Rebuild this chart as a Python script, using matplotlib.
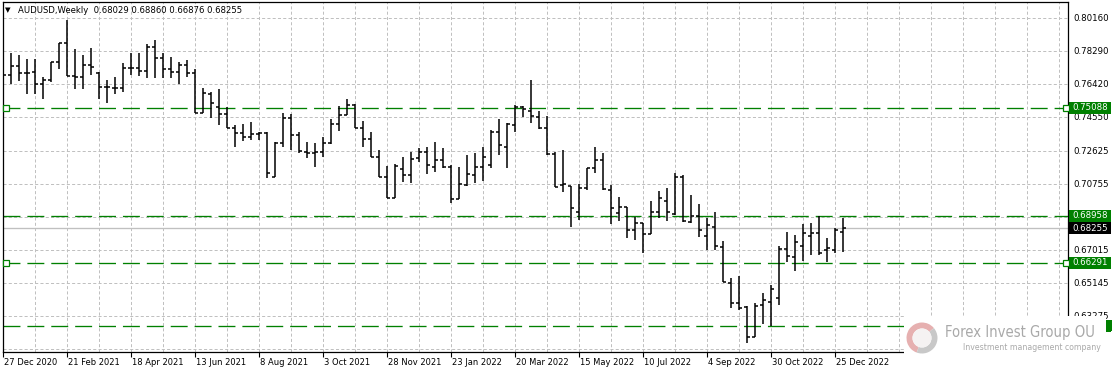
import matplotlib
matplotlib.use("Agg")
import matplotlib.pyplot as plt
from matplotlib.collections import LineCollection
from matplotlib.patches import Rectangle, Wedge, Circle
from matplotlib.transforms import blended_transform_factory
from matplotlib import font_manager

plt.rcParams['lines.scale_dashes'] = False

# ---------------- data ----------------
symbol_title = "AUDUSD,Weekly"
opens = [0.7609, 0.7694, 0.7747, 0.7705, 0.7709, 0.7641, 0.7666, 0.7769, 0.7874, 0.7688,
         0.7681, 0.7751, 0.7707, 0.7624, 0.7620, 0.7618, 0.7732, 0.7732, 0.7718, 0.7854,
         0.7789, 0.7726, 0.7713, 0.7751, 0.7707, 0.7480, 0.7586, 0.7513, 0.7473, 0.7392,
         0.7363, 0.7344, 0.7358, 0.7367, 0.7117, 0.7307, 0.7449, 0.7354, 0.7259, 0.7253,
         0.7259, 0.7310, 0.7414, 0.7467, 0.7524, 0.7395, 0.7329, 0.7231, 0.7117, 0.6995,
         0.7159, 0.7127, 0.7222, 0.7259, 0.7174, 0.7212, 0.7174, 0.6989, 0.7070, 0.7127,
         0.7171, 0.7184, 0.7373, 0.7287, 0.7411, 0.7511, 0.7492, 0.7457, 0.7392, 0.7246,
         0.7070, 0.7065, 0.6919, 0.7052, 0.7165, 0.7212, 0.7042, 0.6913, 0.6947, 0.6815,
         0.6857, 0.6792, 0.6919, 0.6981, 0.6906, 0.7117, 0.6862, 0.6895, 0.6781, 0.6830,
         0.6720, 0.6513, 0.6400, 0.6380, 0.6210, 0.6390, 0.6409, 0.6428, 0.6706, 0.6660,
         0.6724, 0.6781, 0.6800, 0.6702, 0.6702, 0.68029]
highs = [0.7741, 0.7817, 0.7807, 0.7783, 0.7783, 0.7681, 0.7769, 0.7874, 0.8006, 0.7840,
         0.7807, 0.7845, 0.7710, 0.7666, 0.7681, 0.7760, 0.7820, 0.7820, 0.7868, 0.7892,
         0.7817, 0.7798, 0.7769, 0.7779, 0.7728, 0.7619, 0.7597, 0.7615, 0.7513, 0.7411,
         0.7416, 0.7429, 0.7373, 0.7373, 0.7316, 0.7477, 0.7473, 0.7373, 0.7316, 0.7307,
         0.7341, 0.7443, 0.7518, 0.7556, 0.7530, 0.7433, 0.7373, 0.7269, 0.7178, 0.7189,
         0.7231, 0.7259, 0.7278, 0.7284, 0.7316, 0.7278, 0.7184, 0.7174, 0.7240, 0.7250,
         0.7284, 0.7382, 0.7443, 0.7420, 0.7524, 0.7518, 0.7666, 0.7492, 0.7462, 0.7259,
         0.7269, 0.7065, 0.7076, 0.7165, 0.7284, 0.7250, 0.7070, 0.7004, 0.6947, 0.6891,
         0.6857, 0.6981, 0.7036, 0.7052, 0.7137, 0.7127, 0.7014, 0.6963, 0.6881, 0.6919,
         0.6753, 0.6541, 0.6554, 0.6384, 0.6400, 0.6456, 0.6503, 0.6724, 0.6806, 0.6787,
         0.6849, 0.6853, 0.6896, 0.6768, 0.6825, 0.68860]
lows = [0.7552, 0.7641, 0.7660, 0.7585, 0.7585, 0.7560, 0.7656, 0.7726, 0.7688, 0.7616,
        0.7616, 0.7694, 0.7558, 0.7534, 0.7586, 0.7599, 0.7694, 0.7688, 0.7679, 0.7679,
        0.7679, 0.7679, 0.7643, 0.7681, 0.7477, 0.7477, 0.7448, 0.7410, 0.7392, 0.7287,
        0.7321, 0.7325, 0.7325, 0.7108, 0.7114, 0.7284, 0.7269, 0.7250, 0.7222, 0.7171,
        0.7227, 0.7303, 0.7378, 0.7467, 0.7392, 0.7284, 0.7231, 0.7114, 0.6995, 0.6995,
        0.7089, 0.7083, 0.7202, 0.7133, 0.7146, 0.7165, 0.6970, 0.6989, 0.7065, 0.7083,
        0.7095, 0.7165, 0.7240, 0.7165, 0.7373, 0.7454, 0.7424, 0.7386, 0.7240, 0.7061,
        0.7032, 0.6830, 0.6872, 0.7042, 0.7137, 0.7042, 0.6849, 0.6868, 0.6768, 0.6758,
        0.6683, 0.6792, 0.6882, 0.6868, 0.6900, 0.6862, 0.6857, 0.6774, 0.6700, 0.6702,
        0.6522, 0.6371, 0.6362, 0.6176, 0.6210, 0.6280, 0.6271, 0.6390, 0.6635, 0.6584,
        0.6641, 0.6673, 0.6673, 0.6635, 0.6683, 0.66876]
closes = [0.7694, 0.7747, 0.7704, 0.7707, 0.7641, 0.7666, 0.7769, 0.7874, 0.7688, 0.7681,
          0.7751, 0.7741, 0.7624, 0.7624, 0.7618, 0.7732, 0.7732, 0.7718, 0.7854, 0.7789,
          0.7726, 0.7713, 0.7751, 0.7707, 0.7480, 0.7590, 0.7533, 0.7473, 0.7392, 0.7363,
          0.7344, 0.7358, 0.7367, 0.7137, 0.7307, 0.7449, 0.7354, 0.7265, 0.7253, 0.7259,
          0.7310, 0.7414, 0.7467, 0.7524, 0.7395, 0.7329, 0.7231, 0.7117, 0.6995, 0.7178,
          0.7127, 0.7218, 0.7259, 0.7184, 0.7212, 0.7174, 0.6989, 0.7076, 0.7133, 0.7174,
          0.7231, 0.7373, 0.7297, 0.7416, 0.7514, 0.7500, 0.7461, 0.7392, 0.7246, 0.7061,
          0.7076, 0.6938, 0.7052, 0.7165, 0.7212, 0.7046, 0.6938, 0.6947, 0.6815, 0.6857,
          0.6792, 0.6919, 0.6995, 0.6919, 0.7117, 0.6868, 0.6895, 0.6815, 0.6844, 0.6724,
          0.6522, 0.6400, 0.6375, 0.6210, 0.6384, 0.6418, 0.6479, 0.6706, 0.6668, 0.6749,
          0.6800, 0.6800, 0.6683, 0.6711, 0.6815, 0.68255]

date_labels = ["27 Dec 2020", "21 Feb 2021", "18 Apr 2021", "13 Jun 2021", "8 Aug 2021",
               "3 Oct 2021", "28 Nov 2021", "23 Jan 2022", "20 Mar 2022", "15 May 2022",
               "10 Jul 2022", "4 Sep 2022", "30 Oct 2022", "25 Dec 2022"]
date_label_bars = [0, 8, 16, 24, 32, 40, 48, 56, 64, 72, 80, 88, 96, 104]
grid_bars = list(range(0, 133, 4))

price_ticks = [0.80160, 0.78290, 0.76420, 0.74550, 0.72625, 0.70755, 0.68885,
               0.67015, 0.65145, 0.63275, 0.61405]
# labels hidden in the reference (covered by a level label / the watermark) are empty
price_tick_labels = ["0.80160", "0.78290", "0.76420", "0.74550", "0.72625", "0.70755", "",
                     "0.67015", "0.65145", "0.63275", ""]

level_prices = [0.75088, 0.68958, 0.66291, 0.62710]
level_labels = ["0.75088", "0.68958", "0.66291", "0.62710"]
level_markers = [True, False, True, False]
bid_price = 0.68255
bid_label = "0.68255"

# ---------------- layout ----------------
W, H = 1114, 372
fig = plt.figure(figsize=(W / 100, H / 100), dpi=100)
fig.patch.set_facecolor("white")
ax_l, ax_r, ax_t, ax_b = 3, 1068, 2, 352
ax = fig.add_axes([ax_l / W, 1 - ax_b / H, (ax_r - ax_l) / W, (ax_b - ax_t) / H])
ax.set_facecolor("white")
px_per_bar = 8.0
ax.set_xlim(0, (ax_r - ax_l) / px_per_bar)
ax.set_ylim(0.61234, 0.81079)

# grid
grid_col = "#c0c0c0"
for g in grid_bars:
    ax.axvline(g, color=grid_col, lw=0.72, linestyle=(0, (2.2, 1.6)), zorder=1)
for p in price_ticks:
    ax.axhline(p, color=grid_col, lw=0.72, linestyle=(0, (2.2, 1.6)), zorder=1)

# levels
green = "#008000"
for p in level_prices:
    ax.axhline(p, color=green, lw=0.95, linestyle=(0, (12.2, 5.0)), zorder=2)
ax.axhline(bid_price, color="#c0c0c0", lw=0.95, zorder=2)

# OHLC bars
segs = []
tick = 0.32
for i in range(len(opens)):
    segs.append([(i, lows[i]), (i, highs[i])])
    segs.append([(i - tick, opens[i]), (i, opens[i])])
    segs.append([(i, closes[i]), (i + tick, closes[i])])
lc = LineCollection(segs, colors="black", linewidths=1.1, zorder=4, capstyle="butt")
ax.add_collection(lc)

# level markers (small squares)
tr_px_data = blended_transform_factory(fig.transFigure, ax.transData)
for p, m in zip(level_prices, level_markers):
    if m:
        for xp in (5.5, 1065.5):
            ax.plot([xp / W], [p], marker="s", ms=3.8, mfc="white", mec=green, mew=0.9,
                    transform=tr_px_data, clip_on=False, zorder=6)

# spines / ticks
for s in ax.spines.values():
    s.set_color("black")
    s.set_linewidth(0.9)
ax.set_yticks([])
ax.set_xticks(date_label_bars)
ax.set_xticklabels([])
ax.tick_params(axis="x", length=3.5, width=0.8, color="black")

font = "DejaVu Sans"
fs = 6.0
# date labels
for b, lab in zip(date_label_bars, date_labels):
    ax.text(b + 0.15, -0.029, lab, transform=blended_transform_factory(ax.transData, ax.transAxes),
            ha="left", va="center", fontsize=fs, family=font, color="black", clip_on=False)

# price labels
lab_x = 1073 / W
for p, lab in zip(price_ticks, price_tick_labels):
    if lab:
        ax.text(lab_x, p, lab, transform=tr_px_data, ha="left", va="center",
                fontsize=6.2, family=font, color="black", clip_on=False, zorder=5)

box_h = 12 * (0.81079 - 0.61234) / (ax_b - ax_t)
def price_box(p, text, fc, show_text=True):
    r = Rectangle((1069 / W, p - box_h / 2), 42 / W, box_h, transform=tr_px_data,
                  facecolor=fc, edgecolor="none", clip_on=False, zorder=7)
    ax.add_patch(r)
    if show_text:
        ax.text(1072 / W, p, text, transform=tr_px_data, ha="left", va="center",
                fontsize=6.2, family=font, color="white", clip_on=False, zorder=8)

for p, lab in zip(level_prices, level_labels):
    # the lowest level's label sits under the watermark in the reference
    price_box(p, lab, green, show_text=(p > 0.63))
price_box(bid_price, bid_label, "black")

# title
fig.text(5 / W, 1 - 10 / H, "\u25BC", fontsize=5.2, family=font, color="black",
         ha="left", va="center")
title_vals = f"{opens[-1]:.5f} {highs[-1]:.5f} {lows[-1]:.5f} {closes[-1]:.5f}"
fig.text(18 / W, 1 - 10.5 / H, symbol_title + "  " + title_vals, fontsize=6.1, family=font,
         color="black", ha="left", va="center")

# watermark
fig.add_artist(Rectangle((904 / W, 0), (1106 - 904) / W, (372 - 316) / H,
                         transform=fig.transFigure, facecolor="white", edgecolor="none",
                         zorder=10))
cx, cy, rr = 9.22, (372 - 338) / 100, 0.155
fig.add_artist(Wedge((cx, cy), rr, 40, 250, width=0.06, transform=fig.dpi_scale_trans,
                     facecolor="#e6b0b0", edgecolor="none", zorder=11))
fig.add_artist(Wedge((cx, cy), rr, 250, 400, width=0.06, transform=fig.dpi_scale_trans,
                     facecolor="#c8c8c8", edgecolor="none", zorder=11))
fig.add_artist(Circle((cx, cy), rr - 0.06, transform=fig.dpi_scale_trans,
                      facecolor="#f5f2f2", edgecolor="none", zorder=11))

avail = {f.name for f in font_manager.fontManager.ttflist}
wm_font = "Liberation Sans Narrow" if "Liberation Sans Narrow" in avail else "DejaVu Sans"
wm_stretch = "normal" if wm_font == "Liberation Sans Narrow" else "condensed"
t1 = fig.text(945 / W, 1 - 332 / H, "Forex Invest Group OU", fontsize=12, family=wm_font,
              stretch=wm_stretch, color="#a9a9a9", ha="left", va="center", zorder=12)
t2 = fig.text(963 / W, 1 - 347.5 / H, "Investment management company", fontsize=6.0,
              family="DejaVu Sans", color="#a9a9a9", ha="left", va="center", zorder=12)
fig.canvas.draw()
r = fig.canvas.get_renderer()
bb = t1.get_window_extent(r)
t1.set_fontsize(12 * 150 / bb.width)
bb2 = t2.get_window_extent(r)
t2.set_fontsize(6.0 * 138 / bb2.width)

# visible piece of the hidden level label at the right edge
fig.add_artist(Rectangle((1107 / W, 1 - 331 / H), 5 / W, 11 / H, transform=fig.transFigure,
                         facecolor=green, edgecolor="none", zorder=12))

fig.savefig("out.png", dpi=100, facecolor="white")
